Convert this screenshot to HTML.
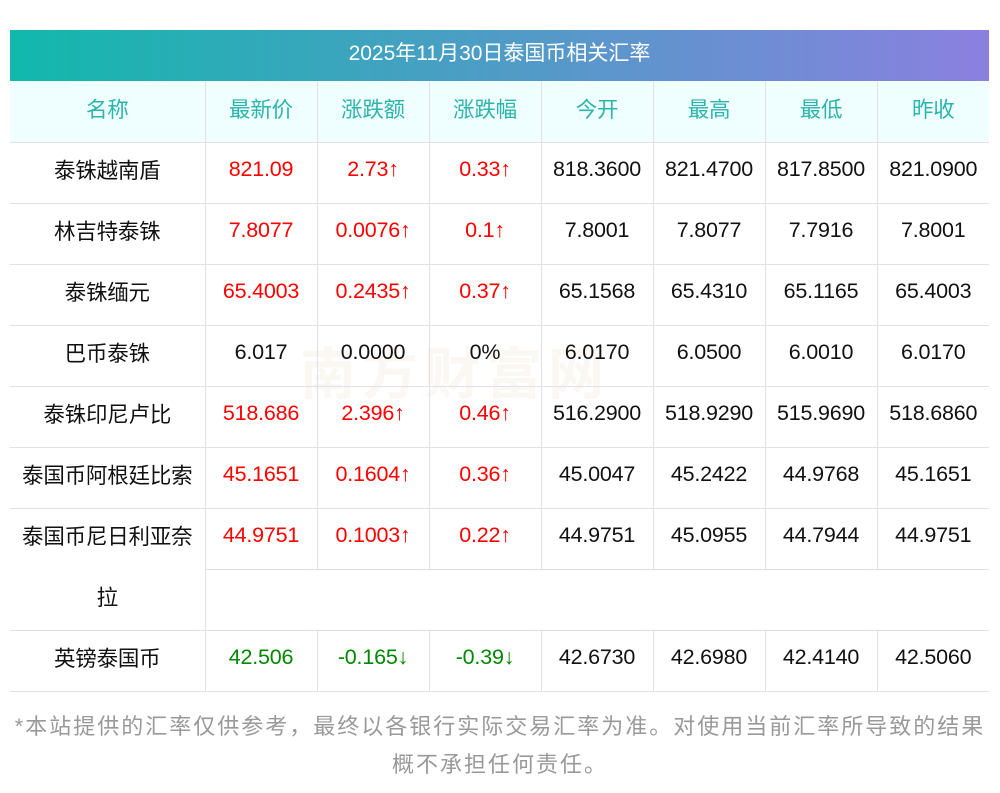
<!DOCTYPE html>
<html><head><meta charset="utf-8"><style>
body{margin:0;width:1000px;height:793px;background:#fff;font-family:"Liberation Sans","Noto Sans CJK SC",sans-serif;position:relative;overflow:hidden}
.bar{position:absolute;left:10px;top:30px;width:979px;height:51px;background:linear-gradient(90deg,#12b8ac,#8b80e0);color:#fff;font-size:21px;text-align:center;line-height:48px}
table{position:absolute;left:10px;top:81px;width:979px;border-collapse:collapse;table-layout:fixed}
td{height:60px;border-bottom:1px solid #e0e0ea;border-left:1px solid #e0e0ea;text-align:center;font-size:21.5px;color:#111;padding:0 0 6px 0;box-sizing:border-box;white-space:nowrap;letter-spacing:-0.2px}
tr td{height:61px}
td:first-child{border-left:none}
tr.h td{background:#effefe;color:#2bb5ad}
.r{color:#f00}.g{color:#080}
.note{position:absolute;left:0;width:1000px;top:708px;text-align:center;color:#999;font-size:22px;line-height:38px;letter-spacing:2px}
.wm{position:absolute;left:300px;top:330px;font-size:56px;color:rgba(230,200,170,0.15);font-weight:bold;letter-spacing:6px}
</style></head><body>
<div class="bar">2025年11月30日泰国币相关汇率</div>
<div class="wm">南方财富网</div>
<table>
<colgroup><col style="width:195px"><col style="width:112px"><col style="width:112px"><col style="width:112px"><col style="width:112px"><col style="width:112px"><col style="width:112px"><col style="width:112px"></colgroup>
<tr class="h"><td>名称</td><td>最新价</td><td>涨跌额</td><td>涨跌幅</td><td>今开</td><td>最高</td><td>最低</td><td>昨收</td></tr>
<tr><td>泰铢越南盾</td><td class="r">821.09</td><td class="r">2.73↑</td><td class="r">0.33↑</td><td>818.3600</td><td>821.4700</td><td>817.8500</td><td>821.0900</td></tr>
<tr><td>林吉特泰铢</td><td class="r">7.8077</td><td class="r">0.0076↑</td><td class="r">0.1↑</td><td>7.8001</td><td>7.8077</td><td>7.7916</td><td>7.8001</td></tr>
<tr><td>泰铢缅元</td><td class="r">65.4003</td><td class="r">0.2435↑</td><td class="r">0.37↑</td><td>65.1568</td><td>65.4310</td><td>65.1165</td><td>65.4003</td></tr>
<tr><td>巴币泰铢</td><td>6.017</td><td>0.0000</td><td>0%</td><td>6.0170</td><td>6.0500</td><td>6.0010</td><td>6.0170</td></tr>
<tr><td>泰铢印尼卢比</td><td class="r">518.686</td><td class="r">2.396↑</td><td class="r">0.46↑</td><td>516.2900</td><td>518.9290</td><td>515.9690</td><td>518.6860</td></tr>
<tr><td>泰国币阿根廷比索</td><td class="r">45.1651</td><td class="r">0.1604↑</td><td class="r">0.36↑</td><td>45.0047</td><td>45.2422</td><td>44.9768</td><td>45.1651</td></tr>
<tr><td style="border-bottom:none">泰国币尼日利亚奈</td><td class="r">44.9751</td><td class="r">0.1003↑</td><td class="r">0.22↑</td><td>44.9751</td><td>45.0955</td><td>44.7944</td><td>44.9751</td></tr>
<tr><td>拉</td><td colspan="7"></td></tr>
<tr><td>英镑泰国币</td><td class="g">42.506</td><td class="g">-0.165↓</td><td class="g">-0.39↓</td><td>42.6730</td><td>42.6980</td><td>42.4140</td><td>42.5060</td></tr>
</table>
<div class="note">*本站提供的汇率仅供参考，最终以各银行实际交易汇率为准。对使用当前汇率所导致的结果<br>概不承担任何责任。</div>
</body></html>
